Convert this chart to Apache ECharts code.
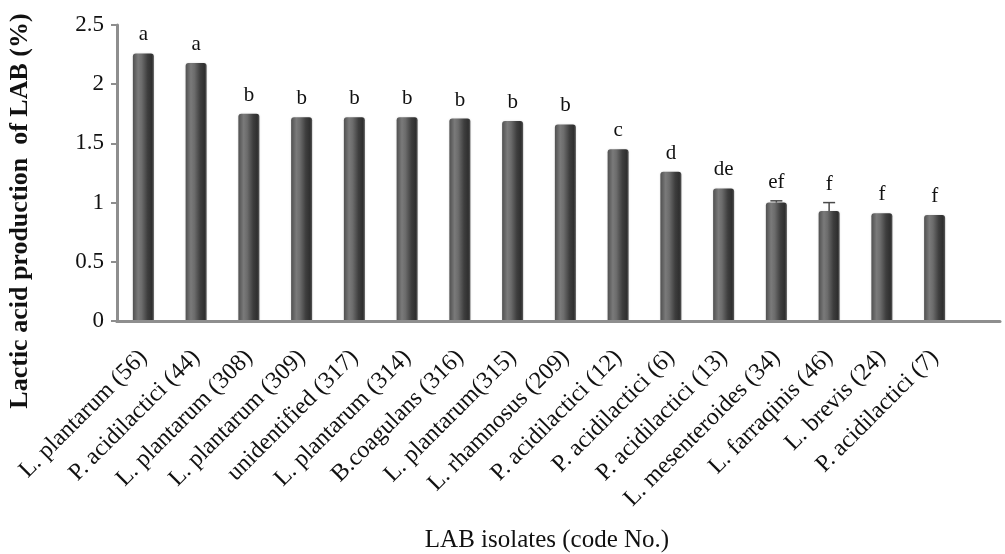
<!DOCTYPE html>
<html>
<head>
<meta charset="utf-8">
<title>Lactic acid production of LAB isolates</title>
<script src="https://cdn.jsdelivr.net/npm/echarts@6/dist/echarts.min.js"></script>
<style>
  html, body { margin: 0; padding: 0; background: #fff; }
  #chart { width: 1005px; height: 554px; }
</style>
</head>
<body>
<div id="chart"></div>
<script>
// LAB isolates and their lactic acid production (%)
const categories = [
  'L. plantarum (56)', 'P. acidilactici (44)', 'L. plantarum (308)', 'L. plantarum (309)',
  'unidentified (317)', 'L. plantarum (314)', 'B.coagulans (316)', 'L. plantarum(315)',
  'L. rhamnosus (209)', 'P. acidilactici (12)', 'P. acidilactici (6)', 'P. acidilactici (13)',
  'L. mesenteroides (34)', 'L. farraqinis (46)', 'L. brevis (24)', 'P. acidilactici (7)'
];
const values = [2.26, 2.18, 1.75, 1.72, 1.72, 1.72, 1.71, 1.69, 1.66, 1.45, 1.26, 1.12, 1.0, 0.93, 0.91, 0.895];
const errors = [0, 0, 0, 0, 0, 0, 0, 0, 0, 0, 0, 0, 0.015, 0.07, 0, 0];
const letters = ['a', 'a', 'b', 'b', 'b', 'b', 'b', 'b', 'b', 'c', 'd', 'de', 'ef', 'f', 'f', 'f'];

const yMin = 0, yMax = 2.5, yStep = 0.5;
const SERIF = "'Liberation Serif', 'Times New Roman', serif";
const AXIS_GREY = '#8e8e8e';

const chart = echarts.init(document.getElementById('chart'), null, { renderer: 'canvas' });

// cylinder-like shading across each bar
const barFill = new echarts.graphic.LinearGradient(0, 0, 1, 0, [
  { offset: 0, color: '#505050' },
  { offset: 0.25, color: '#7a7a7a' },
  { offset: 0.42, color: '#6c6c6c' },
  { offset: 0.7, color: '#3e3e3e' },
  { offset: 0.9, color: '#2f2f2f' },
  { offset: 1, color: '#575757' }
]);

chart.setOption({
  backgroundColor: '#fff',
  animation: false,
  grid: [
    { left: 117, right: 44, top: 25, bottom: 233, outerBoundsMode: 'none', containLabel: false },
    // wider grid that only carries the extended baseline
    { left: 117, right: 5, top: 25, bottom: 233, outerBoundsMode: 'none', containLabel: false }
  ],
  xAxis: [
    {
      type: 'category',
      gridIndex: 0,
      data: categories,
      boundaryGap: true,
      axisLine: { lineStyle: { color: AXIS_GREY, width: 3 } },
      axisTick: { show: false },
      axisLabel: {
        interval: 0,
        rotate: 45,
        margin: 33,
        color: '#111',
        fontFamily: SERIF,
        fontSize: 24
      },
      name: 'LAB isolates (code No.)',
      nameLocation: 'middle',
      nameGap: 207,
      nameTextStyle: { color: '#111', fontFamily: SERIF, fontSize: 25, padding: [0, 0, 0, 16] },
      z: 3
    },
    {
      type: 'value',
      gridIndex: 1,
      min: 0,
      max: 1,
      axisLine: { show: true, lineStyle: { color: AXIS_GREY, width: 3 } },
      axisTick: { show: false },
      axisLabel: { show: false },
      splitLine: { show: false }
    }
  ],
  yAxis: [
    {
      type: 'value',
      gridIndex: 0,
      min: yMin,
      max: yMax,
      interval: yStep,
      axisLine: { show: true, lineStyle: { color: AXIS_GREY, width: 3 } },
      axisTick: { show: true, length: 6, lineStyle: { color: AXIS_GREY, width: 2 } },
      splitLine: { show: false },
      axisLabel: {
        margin: 13,
        color: '#111',
        fontFamily: SERIF,
        fontSize: 23,
        padding: [0, 0, 18, 0]
      },
      name: 'Lactic acid production  of LAB (%)',
      nameLocation: 'middle',
      nameGap: 84,
      nameTextStyle: {
        color: '#111',
        fontFamily: SERIF,
        fontWeight: 'bold',
        fontSize: 26,
        padding: [0, 76, 0, 0]
      }
    },
    { type: 'value', gridIndex: 1, show: false, min: 0, max: 1 }
  ],
  series: [
    {
      type: 'bar',
      xAxisIndex: 0,
      yAxisIndex: 0,
      data: values,
      barWidth: 21,
      itemStyle: {
        color: barFill,
        borderRadius: [3, 3, 0, 0],
        shadowColor: 'rgba(0,0,0,0.15)',
        shadowBlur: 2
      },
      z: 2
    },
    {
      // error whiskers and significance letters above each bar
      type: 'custom',
      xAxisIndex: 0,
      yAxisIndex: 0,
      data: values.map((v, i) => [i, v, errors[i]]),
      z: 4,
      silent: true,
      renderItem: function (params, api) {
        const i = api.value(0);
        const v = api.value(1);
        const e = api.value(2);
        const top = api.coord([i, v + e]);
        const base = api.coord([i, v]);
        const children = [];
        if (e > 0) {
          const s = { stroke: '#4a4a4a', lineWidth: 1.5 };
          children.push({ type: 'line', shape: { x1: top[0], y1: top[1], x2: base[0], y2: base[1] }, style: s });
          children.push({ type: 'line', shape: { x1: top[0] - 6, y1: top[1], x2: top[0] + 6, y2: top[1] }, style: s });
        }
        children.push({
          type: 'text',
          style: {
            x: top[0],
            y: top[1] - 8,
            text: letters[i],
            align: 'center',
            verticalAlign: 'bottom',
            fontFamily: SERIF,
            fontSize: 21,
            fill: '#111'
          }
        });
        return { type: 'group', children: children };
      }
    }
  ]
});
</script>
</body>
</html>
